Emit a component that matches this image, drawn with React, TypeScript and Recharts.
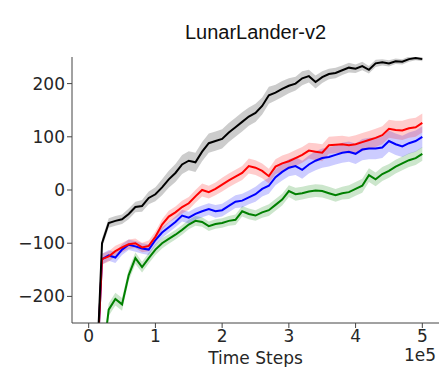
import { ComposedChart, Line, Area, XAxis, YAxis } from 'recharts'

const steps = [
  0.1, 0.2, 0.3, 0.4, 0.5, 0.6, 0.7, 0.8, 0.9, 1.0,
  1.1, 1.2, 1.3, 1.4, 1.5, 1.6, 1.7, 1.8, 1.9, 2.0,
  2.1, 2.2, 2.3, 2.4, 2.5, 2.6, 2.7, 2.8, 2.9, 3.0,
  3.1, 3.2, 3.3, 3.4, 3.5, 3.6, 3.7, 3.8, 3.9, 4.0,
  4.1, 4.2, 4.3, 4.4, 4.5, 4.6, 4.7, 4.8, 4.9, 5.0,
]

const blackMean = [
  -400, -100, -62, -58, -55, -45, -32, -30, -15, -8,
  5, 20, 32, 48, 55, 52, 72, 88, 92, 96,
  108, 118, 128, 138, 145, 158, 178, 183, 190, 196,
  200, 210, 214, 203, 212, 218, 220, 225, 230, 228,
  233, 226, 238, 240, 238, 242, 241, 246, 248, 246,
]
const redMean = [
  -400, -130, -125, -115, -108, -102, -100, -108, -105, -88,
  -65, -50, -42, -32, -25, -12, 0, -4, 2, 10,
  18, 25, 32, 45, 42, 36, 26, 44, 50, 54,
  60, 66, 74, 72, 70, 84, 85, 86, 84, 86,
  90, 94, 98, 103, 115, 113, 112, 116, 118, 126,
]
const blueMean = [
  -400, -130, -123, -127, -112, -103, -106, -110, -112, -94,
  -80, -70, -60, -48, -52, -45, -40, -36, -40, -38,
  -30, -22, -20, -14, -8, 2, 8, 24, 34, 42,
  45, 38, 48, 55, 60, 62, 66, 70, 72, 68,
  76, 78, 78, 80, 92, 86, 82, 88, 92, 100,
]
const greenMean = [
  -500, -330, -225, -205, -215, -160, -128, -145, -128, -112,
  -100, -92, -84, -75, -65, -58, -60, -68, -64, -62,
  -58, -56, -40, -45, -48, -42, -38, -28, -18, -2,
  -8, -6, -3, -1, -2, -6, -10, -6, -4, 2,
  8, 28, 20, 30, 36, 44, 50, 56, 60, 68,
]

// half-width of the shaded band
const blackSpread = [
  0, 9, 9, 9, 9, 10, 10, 11, 12, 13,
  15, 16, 17, 18, 18, 18, 18, 18, 18, 18,
  18, 18, 18, 17, 17, 16, 16, 15, 15, 14,
  13, 13, 12, 12, 11, 10, 10, 9, 9, 8,
  8, 7, 7, 6, 6, 5, 5, 5, 4, 4,
]
const redSpread = [
  0, 10, 10, 10, 9, 9, 9, 9, 10, 10,
  10, 11, 11, 12, 12, 12, 12, 12, 12, 13,
  13, 13, 13, 14, 14, 14, 14, 14, 15, 15,
  15, 15, 15, 16, 16, 16, 16, 16, 16, 17,
  17, 17, 17, 17, 17, 17, 18, 18, 18, 18,
]
const blueSpread = [
  0, 10, 10, 10, 10, 10, 10, 10, 10, 10,
  10, 10, 10, 11, 11, 11, 11, 11, 12, 12,
  12, 12, 13, 13, 14, 14, 15, 15, 16, 16,
  17, 17, 17, 18, 18, 18, 18, 19, 19, 19,
  20, 20, 20, 20, 20, 20, 20, 20, 20, 20,
]
const greenSpread = [
  0, 12, 12, 12, 12, 11, 11, 10, 10, 10,
  10, 9, 9, 9, 9, 9, 9, 9, 9, 9,
  9, 10, 10, 10, 10, 10, 11, 11, 11, 11,
  12, 12, 12, 12, 12, 12, 12, 12, 13, 13,
  13, 13, 13, 13, 13, 13, 13, 13, 13, 13,
]

const xTicks = [0, 1, 2, 3, 4, 5]
const yTicks = [-200, -100, 0, 100, 200]

const series = [
  { key: 'green', color: '#008000', mean: greenMean, spread: greenSpread },
  { key: 'blue', color: '#0000ff', mean: blueMean, spread: blueSpread },
  { key: 'red', color: '#ff0000', mean: redMean, spread: redSpread },
  { key: 'black', color: '#000000', mean: blackMean, spread: blackSpread },
]

const data = steps.map((x, i) => {
  const row: any = { x }
  series.forEach(s => {
    row[s.key] = s.mean[i]
    row[s.key + 'Band'] = [s.mean[i] - s.spread[i], s.mean[i] + s.spread[i]]
  })
  return row
})

const font = '"DejaVu Sans", sans-serif'
const tickStyle = { fill: '#262626', fontSize: 17, fontFamily: font }

export default function App() {
  return (
    <div style={{ position: 'fixed', left: 0, top: 0, width: 440, height: 367, background: '#fff' }}>
      <div style={{
        position: 'absolute', left: 72, width: 367, top: 21, textAlign: 'center', lineHeight: '23px',
        fontFamily: '"Liberation Sans", Arial, sans-serif', fontSize: 20, color: '#111',
      }}>
        LunarLander-v2
      </div>
      <div style={{ position: 'absolute', left: 404, top: 345, fontFamily: font, fontSize: 17, color: '#262626' }}>
        1e5
      </div>
      <ComposedChart width={440} height={367} data={data} margin={{ top: 57, right: 1, bottom: 0, left: 0 }}>
        <XAxis
          type="number"
          dataKey="x"
          domain={[-0.25, 5.25]}
          ticks={xTicks}
          allowDataOverflow
          height={44}
          stroke="#444"
          tickSize={5}
          tick={tickStyle}
          label={{ value: 'Time Steps', position: 'insideBottom', offset: 3, style: { fill: '#262626', fontSize: 17, fontFamily: font } }}
        />
        <YAxis
          type="number"
          domain={[-250, 250]}
          ticks={yTicks}
          allowDataOverflow
          width={72}
          stroke="#444"
          tickSize={5}
          tick={tickStyle}
          tickFormatter={(v: number) => String(v).replace('-', '\u2212')}
        />
        {series.map(s => (
          <Area
            key={s.key + 'Band'}
            type="linear"
            dataKey={s.key + 'Band'}
            stroke="none"
            fill={s.color}
            fillOpacity={0.2}
            isAnimationActive={false}
          />
        ))}
        {series.map(s => (
          <Line
            key={s.key}
            type="linear"
            dataKey={s.key}
            stroke={s.color}
            strokeWidth={2}
            dot={false}
            isAnimationActive={false}
          />
        ))}
      </ComposedChart>
    </div>
  )
}
